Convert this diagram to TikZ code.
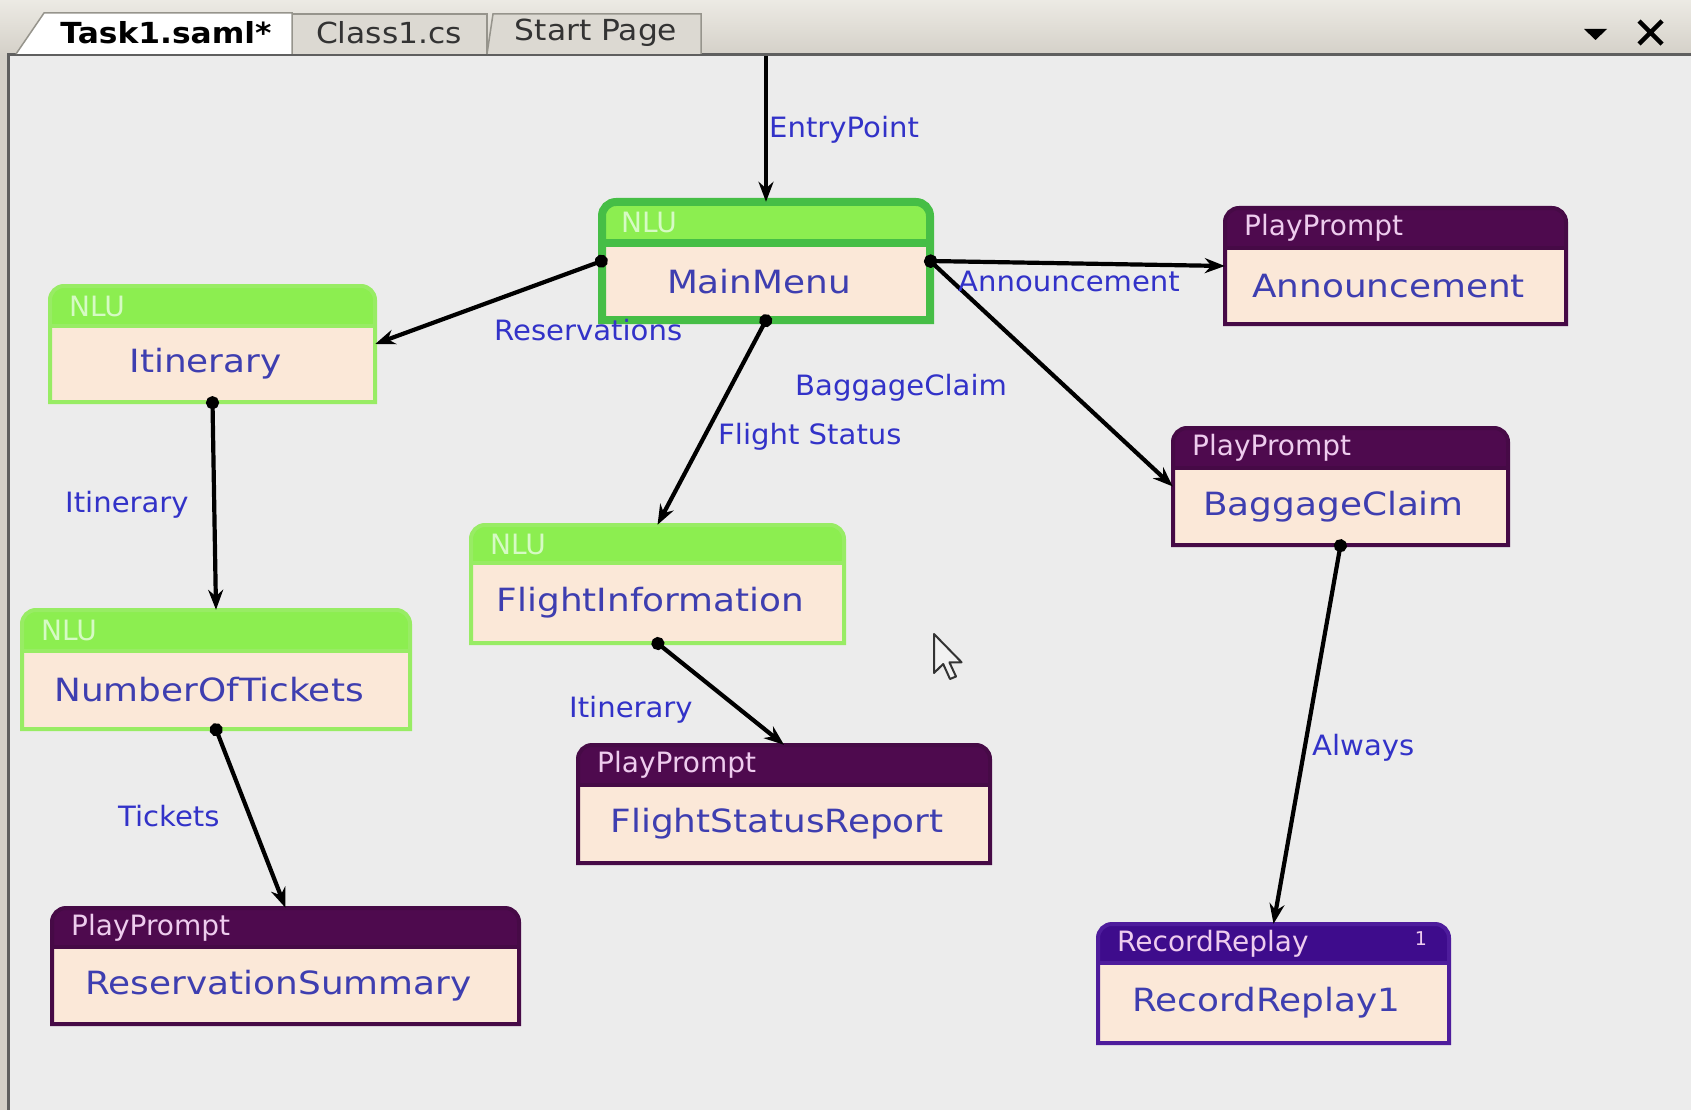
\documentclass[tikz,border=0pt]{standalone}
\usepackage{fontspec}
\setmainfont{DejaVu Sans}
\newfontfamily\labelfont[FakeStretch=1.04]{DejaVu Sans}
\newfontfamily\bodyfont[FakeStretch=1.12]{DejaVu Sans}
\newfontfamily\tabfont[FakeStretch=1.08]{DejaVu Sans}
\usetikzlibrary{arrows.meta,fit}

\definecolor{barbg}{RGB}{212,208,200}
\definecolor{bartop}{RGB}{236,234,228}
\definecolor{tabfill}{RGB}{220,217,210}
\definecolor{tabedge}{RGB}{150,148,140}
\definecolor{canvasbg}{RGB}{236,236,236}
\definecolor{frameline}{RGB}{95,95,95}
\definecolor{bodyfill}{RGB}{251,232,216}
\definecolor{nluhead}{RGB}{140,238,80}
\definecolor{nluframe}{RGB}{152,236,100}
\definecolor{mainframe}{RGB}{70,190,70}
\definecolor{nlutitle}{RGB}{214,250,196}
\definecolor{pphead}{RGB}{78,10,78}
\definecolor{ppframe}{RGB}{70,10,70}
\definecolor{pptitle}{RGB}{238,204,238}
\definecolor{rrhead}{RGB}{62,12,140}
\definecolor{rrframe}{RGB}{78,28,156}
\definecolor{bodytext}{RGB}{62,62,176}
\definecolor{labeltext}{RGB}{50,50,200}

\tikzset{
  nlu head/.style={fill=nluhead},
  nlu frame/.style={draw=nluframe, line width=4pt},
  nlu title/.style={text=nlutitle, font=\fontsize{28}{34}\selectfont, inner sep=0pt},
  main head/.style={fill=nluhead},
  main frame/.style={draw=mainframe, line width=8pt},
  main title/.style={text=nlutitle, font=\fontsize{28}{34}\selectfont, inner sep=0pt},
  pp head/.style={fill=pphead},
  pp frame/.style={draw=ppframe, line width=4pt},
  pp title/.style={text=pptitle, font=\fontsize{28}{34}\selectfont, inner sep=0pt},
  rr head/.style={fill=rrhead},
  rr frame/.style={draw=rrframe, line width=4pt},
  rr title/.style={text=pptitle, font=\fontsize{28}{34}\selectfont, inner sep=0pt},
  body text/.style={text=bodytext, font=\bodyfont\fontsize{32}{38}\selectfont, inner sep=0pt},
  edge label/.style={text=labeltext, font=\labelfont\fontsize{28}{34}\selectfont, inner sep=0pt, anchor=west},
  flow/.style={draw=black, line width=4.2pt, shorten <=-6pt,
    arrows={Circle[length=13pt]-Stealth[length=20pt,width=15pt]}},
  entry flow/.style={draw=black, line width=4.2pt, arrows={-Stealth[length=20pt,width=15pt]}},
  tab active/.style={font=\tabfont\bfseries\fontsize{29}{34}\selectfont, text=black, inner sep=0pt},
  tab idle/.style={font=\tabfont\fontsize{29}{34}\selectfont, text=black!80, inner sep=0pt},
}

% #1 name, #2 kind, #3 left, #4 top, #5 right, #6 bottom, #7 header bottom, #8 kind title, #9 state name
\newcommand\statebox[9]{%
  \path[fill=bodyfill] (#3,#6) [rounded corners=14pt] -- (#3,#4) -- (#5,#4) [sharp corners] -- (#5,#6) -- cycle;
  \path[#2 head] (#3,#7) [rounded corners=14pt] -- (#3,#4) -- (#5,#4) [sharp corners] -- (#5,#7) -- cycle;
  \draw[#2 frame] (#3,#7) -- (#5,#7);
  \draw[#2 frame] (#3,#6) [rounded corners=14pt] -- (#3,#4) -- (#5,#4) [sharp corners] -- (#5,#6) -- cycle;
  \node[fit={(#3,#4) (#5,#6)}, inner sep=0pt] (#1) {};
  \node[#2 title, anchor=west] (#1-title) at ({#3+19},{(#4+#7)/2}) {#8};
  \node[body text] (#1-text) at ({(#3+#5)/2-7},{(#7+#6)/2}) {#9};
}

\begin{document}
\begin{tikzpicture}[x=1pt,y=-1pt]
\useasboundingbox (0,0) rectangle (1691,1110);

% window tab strip
\shade[top color=bartop, bottom color=barbg] (0,0) rectangle (1691,56);
\fill[barbg] (0,56) rectangle (9,1110);
\fill[canvasbg] (9,56) rectangle (1691,1110);
\draw[frameline, line width=3pt] (8,1110) -- (8,55) -- (1691,55);

% tabs
\filldraw[fill=tabfill, draw=tabedge, line width=1.5pt] (292,54) -- (292,14) -- (487,14) -- (487,54);
\filldraw[fill=tabfill, draw=tabedge, line width=1.5pt] (487,54) -- (493,14) -- (701,14) -- (701,54);
\filldraw[fill=white, draw=tabedge, line width=1.5pt] (16,54) -- (44,13) -- (292,13) -- (292,54);
\node[tab active] (tab1) at (166,33) {Task1.saml*};
\node[tab idle] (tab2) at (389,33) {Class1.cs};
\node[tab idle] (tab3) at (596,33) {Start Page};

% window controls
\fill[black] (1584,29) -- (1607,29) -- (1595.5,40) -- cycle;
\draw[black, line width=4.5pt] (1639,21) -- (1662,44) (1639,44) -- (1662,21);

% states
\statebox{main}{main}{602}{202}{930}{320}{243}{NLU}{MainMenu}
\statebox{itin}{nlu}{50}{286}{375}{402}{326}{NLU}{Itinerary}
\statebox{tix}{nlu}{22}{610}{410}{729}{651}{NLU}{NumberOfTickets}
\statebox{finfo}{nlu}{471}{525}{844}{643}{563}{NLU}{FlightInformation}
\statebox{ann}{pp}{1225}{208}{1566}{324}{248}{PlayPrompt}{Announcement}
\statebox{bag}{pp}{1173}{428}{1508}{545}{468}{PlayPrompt}{BaggageClaim}
\statebox{fsr}{pp}{578}{745}{990}{863}{785}{PlayPrompt}{FlightStatusReport}
\statebox{resv}{pp}{52}{908}{519}{1024}{947}{PlayPrompt}{ReservationSummary}
\statebox{rr}{rr}{1098}{924}{1449}{1043}{963}{RecordReplay}{RecordReplay1}
\node[rr title, font=\fontsize{19}{22}\selectfont] (rr-count) at (1421,939) {1};

% transitions
\coordinate (entry) at (766,56);
\draw[entry flow] (entry) -- (main.north);
\draw[flow] (main.west) -- (itin.east);
\draw[flow] (main.east) -- (ann.west);
\draw[flow] (main.east) -- (bag.west);
\draw[flow] (main.south) -- (finfo.north);
\draw[flow] (itin.south) -- (tix.north);
\draw[flow] (finfo.south) -- (fsr.north);
\draw[flow] (tix.south) -- (resv.north);
\draw[flow] (bag.south) -- (rr.north);

% transition labels
\node[edge label] (l-entry) at (769,130) {EntryPoint};
\node[edge label] (l-resv) at (494,330) {Reservations};
\node[edge label] (l-ann) at (958,281) {Announcement};
\node[edge label] (l-bag) at (795,388) {BaggageClaim};
\node[edge label] (l-status) at (718,437) {Flight Status};
\node[edge label] (l-itin) at (65,505) {Itinerary};
\node[edge label] (l-itin2) at (569,710) {Itinerary};
\node[edge label] (l-tix) at (118,816) {Tickets};
\node[edge label] (l-always) at (1312,748) {Always};

% mouse pointer
\filldraw[fill=white!95!black, draw=black!80, line width=2pt, line join=round]
  (934,634) -- (934,673) -- (943.2,664) -- (950,679) -- (956,676.5) -- (949.4,662.3) -- (961.6,662.3) -- cycle;
\end{tikzpicture}
\end{document}
